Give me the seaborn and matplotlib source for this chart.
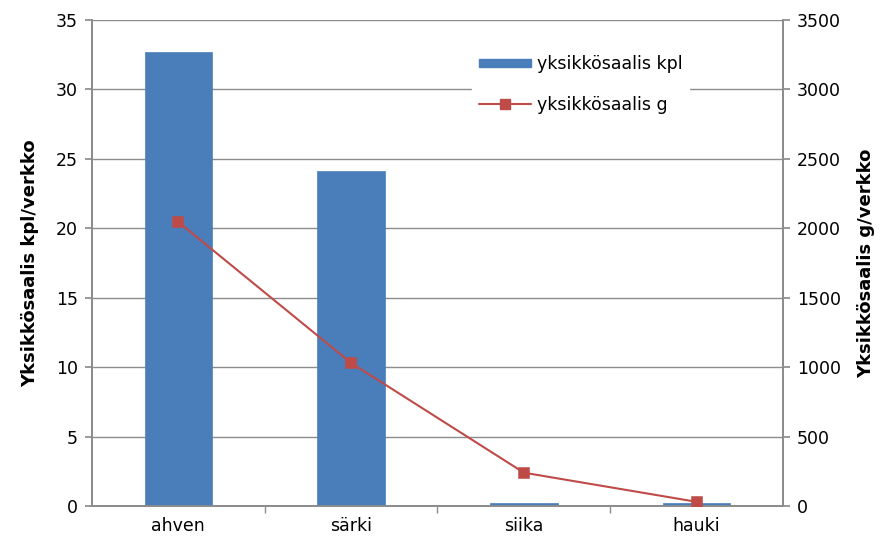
import matplotlib
matplotlib.use("Agg")
import matplotlib.pyplot as plt
import seaborn as sns
import pandas as pd
from matplotlib.lines import Line2D
from matplotlib.patches import Patch

categories = ["ahven", "särki", "siika", "hauki"]
kpl_values = [32.7, 24.1, 0.2, 0.2]
g_values = [2045, 1030, 240, 30]
left_ticks = [0, 5, 10, 15, 20, 25, 30, 35]
right_ticks = [0, 500, 1000, 1500, 2000, 2500, 3000, 3500]

sns.set_theme(style="white")
plt.rcParams['font.family'] = ['DejaVu Sans']
plt.rcParams['text.color'] = 'black'
plt.rcParams['axes.labelcolor'] = 'black'
plt.rcParams['xtick.color'] = 'black'
plt.rcParams['ytick.color'] = 'black'

df = pd.DataFrame({"laji": categories, "kpl": kpl_values, "g": g_values})

bar_color = "#4A7EBB"
line_color = "#BE4B48"
grid_color = "#8C8C8C"

fig = plt.figure(figsize=(8.92, 5.47), dpi=100)
ax = fig.add_axes([92 / 892, 1 - 506 / 547, (783 - 92) / 892, (506 - 20) / 547])

sns.barplot(data=df, x="laji", y="kpl", color=bar_color, width=0.39,
            saturation=1, ax=ax, zorder=3, edgecolor=bar_color, linewidth=0.5)
ax.set_ylim(0, 35)
ax.set_xlim(-0.5, 3.5)
ax.set_yticks(left_ticks)
ax.yaxis.grid(True, color=grid_color, linewidth=1)
ax.set_axisbelow(True)
ax.set_xlabel("")
ax.set_ylabel("Yksikkösaalis kpl/verkko", fontsize=13, fontweight="bold", labelpad=12)
ax.tick_params(axis="y", labelsize=12.5, length=5, color=grid_color, labelcolor="black",
               left=True, direction="out", pad=5)
ax.set_xticks([0, 1, 2, 3])
ax.set_xticklabels(categories, fontsize=12.5)
ax.tick_params(axis="x", length=0, pad=8, labelcolor="black")
ax.set_xticks([0.5, 1.5, 2.5], minor=True)
ax.tick_params(axis="x", which="minor", length=5, color=grid_color, bottom=True, direction="out")
ax.spines["top"].set_visible(False)
for s in ["left", "bottom", "right"]:
    ax.spines[s].set_color(grid_color)

ax2 = ax.twinx()
sns.pointplot(data=df, x="laji", y="g", color=line_color, markers="s",
              linestyles="-", ax=ax2, markersize=7, linewidth=1.5, zorder=4)
ax2.set_ylim(0, 3500)
ax2.set_xlim(-0.5, 3.5)
ax2.set_yticks(right_ticks)
ax2.set_ylabel("Yksikkösaalis g/verkko", fontsize=13, fontweight="bold", labelpad=12)
ax2.tick_params(axis="y", labelsize=12.5, length=5, color=grid_color, labelcolor="black",
                right=True, direction="out", pad=5)
ax2.spines["top"].set_visible(False)
for s in ["left", "bottom", "right"]:
    ax2.spines[s].set_color(grid_color)
ax2.grid(False)

handles = [Patch(facecolor=bar_color, edgecolor=bar_color),
           Line2D([0], [0], color=line_color, marker="s", markersize=7, linewidth=1.5)]
leg = ax2.legend(handles, ["yksikkösaalis kpl", "yksikkösaalis g"],
                 loc="upper left", bbox_to_anchor=(0.538, 0.96), fontsize=12.5,
                 frameon=True, facecolor="white", edgecolor="white", framealpha=1,
                 handlelength=3.0, handleheight=0.35, handletextpad=0.3, labelspacing=1.3)

fig.savefig("out.png", dpi=100, facecolor="white")
